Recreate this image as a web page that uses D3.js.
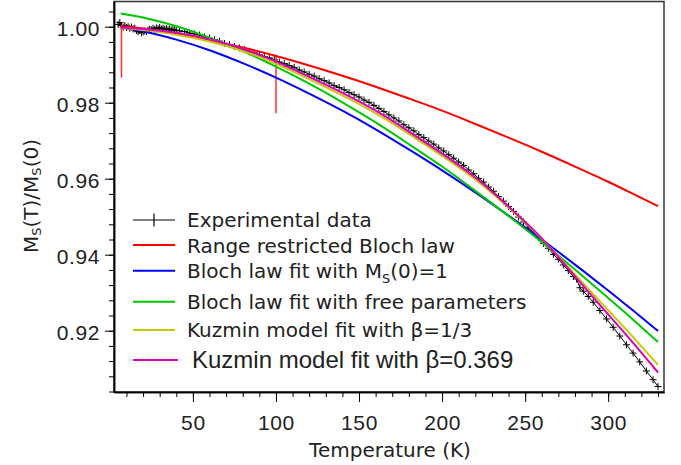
<!DOCTYPE html>
<html><head><meta charset="utf-8">
<script src="https://cdn.jsdelivr.net/npm/d3@7"></script>
<style>html,body{margin:0;padding:0;background:#fff;} svg{display:block;}</style>
</head><body><svg id="c" width="681" height="465"></svg>
<script>
// ---------- data ----------
const expT = [5,6,7,8,9,10,11,12,13,14,15,16,17,18,19,20,21,22,23,24,25,26,27,28,29,30,31,32,33,34,35,36,37,38,39,40,
  42,45,48,51,54,57,60,63,66,69,72,75,78,81,84,87,90,93,96,99,
  102,105,108,111,114,117,120,123,126,129,132,135,138,141,144,147,150,153,156,159,
  162,165,168,171,174,177,180,183,186,189,192,195,198,201,204,207,210,213,216,219,
  222,225,228,231,234,237,240,243,246,249,252,255,258,261,264,267,270,273,276,279,
  281,283,285,288,291,295,299,303,307,311,315,319,323,327,330];
const expM = [1.0006,1.0011,1.0003,0.9999,1.0003,0.9998,1.0000,0.9996,0.9999,0.9994,0.9996,0.9990,0.9987,0.9990,0.9984,0.9986,0.9989,0.9987,0.9991,0.9993,0.9992,0.9996,0.9993,0.9997,0.9995,0.9998,0.9994,0.9996,0.9993,0.9995,0.9992,0.9994,0.9991,0.9993,0.9990,0.9991,
  0.9989,0.9987,0.9983,0.9981,0.9978,0.9973,0.9970,0.9966,0.9962,0.9956,0.9953,0.9948,0.9944,0.9940,0.9934,0.9931,0.9926,0.9921,0.9918,0.9913,
  0.9907,0.9903,0.9898,0.9893,0.9886,0.9881,0.9875,0.9870,0.9863,0.9858,0.9852,0.9845,0.9840,0.9834,0.9827,0.9821,0.9815,0.9807,0.9801,0.9793,
  0.9785,0.9777,0.9768,0.9760,0.9752,0.9742,0.9734,0.9726,0.9716,0.9708,0.9699,0.9691,0.9681,0.9673,0.9663,0.9654,0.9644,0.9635,0.9623,0.9613,
  0.9601,0.9591,0.9578,0.9567,0.9553,0.9541,0.9527,0.9514,0.9499,0.9486,0.9472,0.9458,0.9445,0.9430,0.9417,0.9401,0.9388,0.9373,0.9358,0.9343,
  0.9336,0.9313,0.9304,0.9290,0.9275,0.9253,0.9231,0.9209,0.9186,0.9163,0.9141,0.9118,0.9094,0.9071,0.9053];

const fitT        = [6.5, 20, 40, 60, 80, 100, 120, 140, 160, 180, 200, 220, 240, 260, 280, 300, 315, 330];
const fitRange    = [1.0001,0.9995,0.9982,0.9965,0.9945,0.9923,0.9898,0.9871,0.9842,0.9811,0.9779,0.9744,0.9708,0.9671,0.9632,0.9592,0.9560,0.9528];
const fitBloch1   = [0.9998,0.9988,0.9966,0.9938,0.9904,0.9866,0.9824,0.9779,0.9730,0.9677,0.9622,0.9564,0.9503,0.9440,0.9374,0.9306,0.9253,0.9199];
const fitBlochFree= [1.0035,1.0024,1.0001,0.9971,0.9936,0.9895,0.9850,0.9801,0.9748,0.9691,0.9632,0.9568,0.9502,0.9433,0.9361,0.9286,0.9229,0.9170];
const fitKuzmin13 = [0.9997,0.9991,0.9979,0.9961,0.9936,0.9902,0.9862,0.9819,0.9772,0.9718,0.9660,0.9598,0.9524,0.9442,0.9348,0.9254,0.9183,0.9110];
const fitKuzmin369= [0.9998,0.9994,0.9984,0.9967,0.9942,0.9908,0.9868,0.9826,0.9779,0.9724,0.9666,0.9603,0.9527,0.9443,0.9343,0.9243,0.9168,0.9090];

// fitting-range markers of the restricted Bloch law
const rangeT      = [7, 100];
const rangeTop    = [1.0005, 0.9926];
const rangeBottom = [0.9866, 0.9772];

const xTicks = [50,100,150,200,250,300];
const xMinor = d3.range(10, 331, 10);
const yTicks = [0.92,0.94,0.96,0.98,1.00];
const yMinor = d3.range(0.904, 1.0065, 0.004);

const seriesNames  = ["Range restricted Bloch law","Bloch law fit with M_S(0)=1","Bloch law fit with free parameters","Kuzmin model fit with β=1/3","Kuzmin model fit with β=0.369"];
const seriesValues = [fitRange, fitBloch1, fitBlochFree, fitKuzmin13, fitKuzmin369];
const seriesColors = ["#ff0000","#0000ff","#00c800","#c8c800","#dd00bb"];
const expName = "Experimental data";

// ---------- layout ----------
const L = 114, R = 664, T = 1.5, B = 392;
const svg = d3.select("#c");
const x = d3.scaleLinear().domain([2.5, 333.6]).range([L, R]);
const y = d3.scaleLinear().domain([0.90387, 1.00663]).range([B, T]);

svg.append("defs").append("clipPath").attr("id","clip")
  .append("rect").attr("x",L).attr("y",T).attr("width",R-L).attr("height",B-T);

const tickFont = "'Liberation Sans', Arial, sans-serif";
const textFont = "'DejaVu Sans', sans-serif";

// frame
svg.append("rect").attr("x",L).attr("y",T).attr("width",R-L).attr("height",B-T)
  .attr("fill","none").attr("stroke","#333").attr("stroke-width",1.5);

// y axis
const gy = svg.append("g").attr("transform",`translate(${L},0)`);
gy.call(d3.axisLeft(y).tickValues(yMinor).tickSize(5).tickSizeOuter(0).tickFormat(""));
gy.call(g => g.selectAll(".tick line").attr("stroke","#000"));
const gy2 = svg.append("g").attr("transform",`translate(${L},0)`);
gy2.call(d3.axisLeft(y).tickValues(yTicks).tickSize(9).tickSizeOuter(0).tickFormat(d3.format(".2f")));
gy2.selectAll("text").attr("x",-14).attr("dy","0.44em")
  .style("font-family",tickFont).style("font-size","21px").style("letter-spacing","0.6px").attr("fill","#222");
svg.selectAll(".domain").attr("stroke","#000").attr("stroke-width",1.5);

// x axis
const gx = svg.append("g").attr("transform",`translate(0,${B})`);
gx.call(d3.axisBottom(x).tickValues(xMinor).tickSize(5).tickSizeOuter(0).tickFormat(""));
const gx2 = svg.append("g").attr("transform",`translate(0,${B})`);
gx2.call(d3.axisBottom(x).tickValues(xTicks).tickSize(10).tickSizeOuter(0));
gx2.selectAll("text").attr("y",38).attr("dy",null)
  .style("font-family",tickFont).style("font-size","21px").style("letter-spacing","0.6px").attr("fill","#222");
svg.selectAll(".domain").attr("stroke","#000").attr("stroke-width",1.5);
svg.selectAll(".tick line").attr("stroke","#000");

// axis titles
svg.append("text").attr("x",(L+R)/2 + 1).attr("y",456.5).attr("text-anchor","middle")
  .style("font-family",textFont).style("font-size","20px").attr("fill","#222").text("Temperature (K)");
const yl = svg.append("text").attr("transform","translate(38,196) rotate(-90)").attr("text-anchor","middle")
  .style("font-family",textFont).style("font-size","20px").attr("fill","#222");
yl.append("tspan").text("M");
yl.append("tspan").attr("dy",2.5).style("font-size","13px").text("S");
yl.append("tspan").attr("dy",-2.5).text("(T)/M");
yl.append("tspan").attr("dy",2.5).style("font-size","13px").text("S");
yl.append("tspan").attr("dy",-2.5).text("(0)");

// ---------- plot ----------
const plot = svg.append("g").attr("clip-path","url(#clip)");
const expData = expT.map((t,i)=>({t, m: expM[i]}));
plot.append("path").datum(expData)
  .attr("fill","none").attr("stroke","#000").attr("stroke-width",1)
  .attr("d", d3.line().x(d=>x(d.t)).y(d=>y(d.m)));
plot.selectAll(".pt").data(expData).join("path").attr("class","pt")
  .attr("transform",d=>`translate(${x(d.t)},${y(d.m)})`)
  .attr("d","M-3.5,0H3.5M0,-3.5V3.5").attr("stroke","#000").attr("stroke-width",1);

// range markers
plot.selectAll(".rng").data(rangeT).join("line").attr("class","rng")
  .attr("x1",d=>x(d)).attr("x2",d=>x(d))
  .attr("y1",(d,i)=>y(rangeTop[i])).attr("y2",(d,i)=>y(rangeBottom[i]))
  .attr("stroke","#ff3030").attr("stroke-width",1.5);

const fitLine = d3.line().curve(d3.curveNatural).x((d,i)=>x(fitT[i])).y(d=>y(d));
seriesValues.forEach((vals,k)=>{
  plot.append("path").datum(vals).attr("fill","none")
    .attr("stroke",seriesColors[k]).attr("stroke-width",2).attr("d",fitLine);
});

// ---------- legend ----------
const legLineY = [220, 245, 270.7, 301.7, 330, 360];
const legTextY = [227, 253, 277.7, 309, 336.7, 368.3];
const lg = svg.append("g");
lg.append("line").attr("x1",133).attr("x2",175).attr("y1",legLineY[0]).attr("y2",legLineY[0]).attr("stroke","#000").attr("stroke-width",1.2);
lg.append("line").attr("x1",154).attr("x2",154).attr("y1",legLineY[0]-6.5).attr("y2",legLineY[0]+6.5).attr("stroke","#000").attr("stroke-width",1.2);
lg.append("text").attr("x",187).attr("y",legTextY[0]).style("font-family",textFont).style("font-size","20px").attr("fill","#222").text(expName);
seriesNames.forEach((name,k)=>{
  const ly = legLineY[k+1];
  lg.append("line").attr("x1",133).attr("x2", k===4 ? 178 : 175).attr("y1",ly).attr("y2",ly)
    .attr("stroke",seriesColors[k]).attr("stroke-width",2);
  const t = lg.append("text").attr("x", k===4 ? 192 : 187).attr("y",legTextY[k+1]).attr("fill","#222")
    .style("font-family", k===4 ? tickFont : textFont).style("font-size", k===4 ? "24px" : "20px");
  const parts = name.split("_S");
  if (parts.length > 1) {
    t.append("tspan").text(parts[0]);
    t.append("tspan").attr("dy",5).style("font-size","13px").text("S");
    t.append("tspan").attr("dy",-5).text(parts[1]);
  } else t.text(name);
});
</script>
</body></html>
